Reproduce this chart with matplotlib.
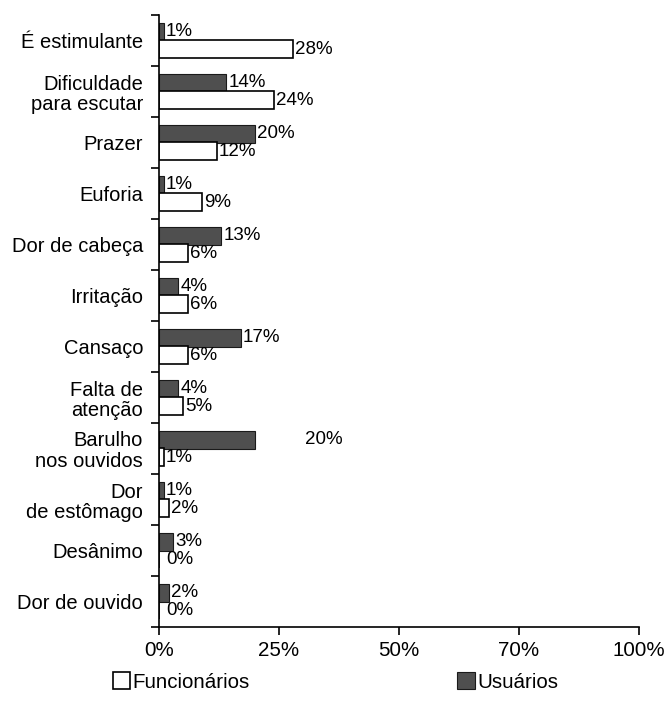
import matplotlib
matplotlib.use("Agg")
import matplotlib.pyplot as plt
from matplotlib.patches import Patch

plt.rcParams['font.family'] = ['Liberation Sans', 'DejaVu Sans']

categories = ["É estimulante", "Dificuldade\npara escutar", "Prazer", "Euforia",
              "Dor de cabeça", "Irritação", "Cansaço", "Falta de\natenção",
              "Barulho\nnos ouvidos", "Dor\nde estômago", "Desânimo", "Dor de ouvido"]
usuarios = [1, 14, 20, 1, 13, 4, 17, 4, 20, 1, 3, 2]
funcionarios = [28, 24, 12, 9, 6, 6, 6, 5, 1, 2, 0, 0]
usuarios_labels = ["1%", "14%", "20%", "1%", "13%", "4%", "17%", "4%", "20%", "1%", "3%", "2%"]
funcionarios_labels = ["28%", "24%", "12%", "9%", "6%", "6%", "6%", "5%", "1%", "2%", "0%", "0%"]
# label for "Barulho nos ouvidos" (Usuários) is printed far to the right in the original
usuarios_label_x = [None, None, None, None, None, None, None, None, 30, None, None, None]
xticks = [0, 25, 50, 75, 100]
xtick_labels = ["0%", "25%", "50%", "70%", "100%"]

fig = plt.figure(figsize=(6.69, 7.01), dpi=100)
ax = fig.add_axes([159/669, 1-627/701, (639-159)/669, (627-15)/701])

n = len(categories)
centers = [i + 0.5 for i in range(n)]
h = 0.34
off = 0.167
ypos_u = [c - off for c in centers]
ypos_f = [c + off for c in centers]

ax.barh(ypos_u, usuarios, height=h, color='#4f4f4f', edgecolor='#1a1a1a', linewidth=0.8)
ax.barh(ypos_f, funcionarios, height=h, color='white', edgecolor='black', linewidth=1.2)

fs = 13.5
for i in range(n):
    xu = usuarios[i] if usuarios_label_x[i] is None else usuarios_label_x[i]
    ax.annotate(usuarios_labels[i], (xu, ypos_u[i]), xytext=(1.5, 0), textcoords='offset points',
                ha='left', va='center', fontsize=fs)
    ax.annotate(funcionarios_labels[i], (funcionarios[i], ypos_f[i]),
                xytext=(1.5 if funcionarios[i] > 0 else 5, 0), textcoords='offset points',
                ha='left', va='center', fontsize=fs)

ax.set_xlim(0, 100)
ax.set_ylim(n, 0)
ax.set_xticks(xticks)
ax.set_xticklabels(xtick_labels, fontsize=14.8)
ax.set_yticks(range(n + 1))
ax.set_yticklabels([])
ax.set_yticks(centers, minor=True)
ax.set_yticklabels(categories, minor=True, fontsize=14.5, ha='right', linespacing=1.08)
ax.tick_params(axis='y', which='minor', length=0, pad=11.5)
ax.tick_params(axis='y', which='major', length=6, width=1.2, direction='out')
ax.tick_params(axis='x', length=6, width=1.2, direction='out', pad=4)
for s in ['top', 'right']:
    ax.spines[s].set_visible(False)
for s in ['left', 'bottom']:
    ax.spines[s].set_linewidth(1.2)

handles = [Patch(facecolor='white', edgecolor='black', linewidth=1.2, label='Funcionários'),
           Patch(facecolor='#4f4f4f', edgecolor='#1a1a1a', linewidth=0.8, label='Usuários')]
fig.legend(handles=handles, ncol=2, loc='center left', bbox_to_anchor=(113/669, 1-682/701),
           frameon=False, fontsize=14.8, handlelength=0.85, handleheight=0.85, handletextpad=0.1,
           columnspacing=10.1, borderpad=0, borderaxespad=0)

fig.savefig("out.png", dpi=100)
